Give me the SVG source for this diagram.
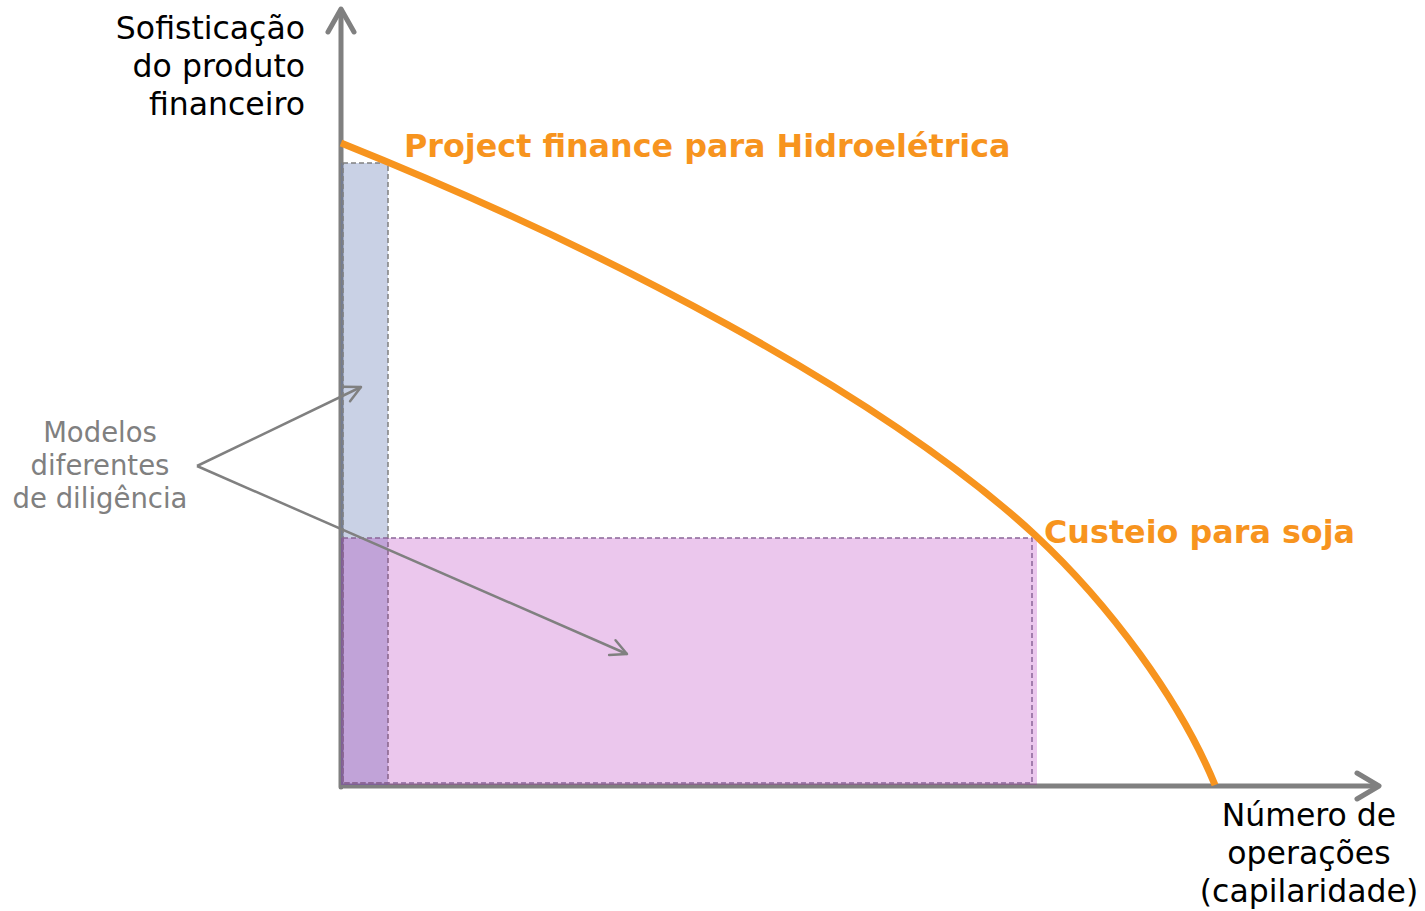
<svg xmlns="http://www.w3.org/2000/svg" width="1425" height="911" viewBox="0 0 1425 911">
<style>
.lbl{font-family:"DejaVu Sans","Verdana",sans-serif;font-size:31.5px;fill:#000}
.gray{font-family:"DejaVu Sans","Verdana",sans-serif;font-size:27.5px;fill:#808080}
.orange{font-family:"DejaVu Sans","Verdana",sans-serif;font-size:31.8px;font-weight:bold;fill:#f7941e}
.axis{stroke:#808080;stroke-width:5;fill:none;stroke-linecap:round;stroke-linejoin:round}
.conn{stroke:#808080;stroke-width:2.5;fill:none}
</style>
<defs>
<marker id="open" viewBox="0 0 20 20" refX="18" refY="10" markerWidth="20" markerHeight="20" markerUnits="userSpaceOnUse" orient="auto">
<path d="M2,2 L18,10 L2,18" fill="none" stroke="#808080" stroke-width="2.5" stroke-linecap="round" stroke-linejoin="round"/>
</marker>
</defs>
<rect width="1425" height="911" fill="#fff"/>
<g id="axes">
<line class="axis" x1="341" y1="10" x2="341" y2="787"/>
<polyline class="axis" points="328,32 341,9 354,32"/>
<line class="axis" x1="344" y1="786" x2="1377" y2="786"/>
<polyline class="axis" points="1357,773 1379,786 1357,799"/>
</g>
<g id="modelo-hidro">
<rect x="341" y="163" width="47" height="622" fill="#5a74b0" fill-opacity="0.33"/>
<rect x="343" y="163" width="45" height="620" fill="none" stroke="#808080" stroke-width="1.5" stroke-dasharray="5,3"/>
</g>
<g id="modelo-soja">
<rect x="341" y="538" width="696" height="247" fill="#a400ad" fill-opacity="0.22"/>
<rect x="343" y="538" width="689" height="245" fill="none" stroke="#8b6598" stroke-width="1.5" stroke-dasharray="5,3"/>
</g>
<g id="curva">
<path d="M341,143 C600,247 880,392 1035,535 C1110,605 1180,700 1215,785" fill="none" stroke="#f7941e" stroke-width="7"/>
</g>
<g id="connectors">
<line class="conn" x1="197" y1="466" x2="361" y2="387" marker-end="url(#open)"/>
<line class="conn" x1="197" y1="466" x2="627" y2="654" marker-end="url(#open)"/>
</g>
<g id="label-y">
<text class="lbl" text-anchor="end" x="305" y="39">Sofisticação</text>
<text class="lbl" text-anchor="end" x="305" y="77">do produto</text>
<text class="lbl" text-anchor="end" x="305" y="115">financeiro</text>
</g>
<g id="label-x">
<text class="lbl" text-anchor="middle" x="1309" y="826">Número de</text>
<text class="lbl" text-anchor="middle" x="1309" y="864">operações</text>
<text class="lbl" text-anchor="middle" x="1309" y="902">(capilaridade)</text>
</g>
<g id="label-modelos">
<text class="gray" text-anchor="middle" x="100" y="442">Modelos</text>
<text class="gray" text-anchor="middle" x="100" y="475">diferentes</text>
<text class="gray" text-anchor="middle" x="100" y="508">de diligência</text>
</g>
<g id="label-hidro">
<text class="orange" x="404" y="157">Project finance para Hidroelétrica</text>
</g>
<g id="label-soja">
<text class="orange" x="1044" y="543">Custeio para soja</text>
</g>
</svg>
